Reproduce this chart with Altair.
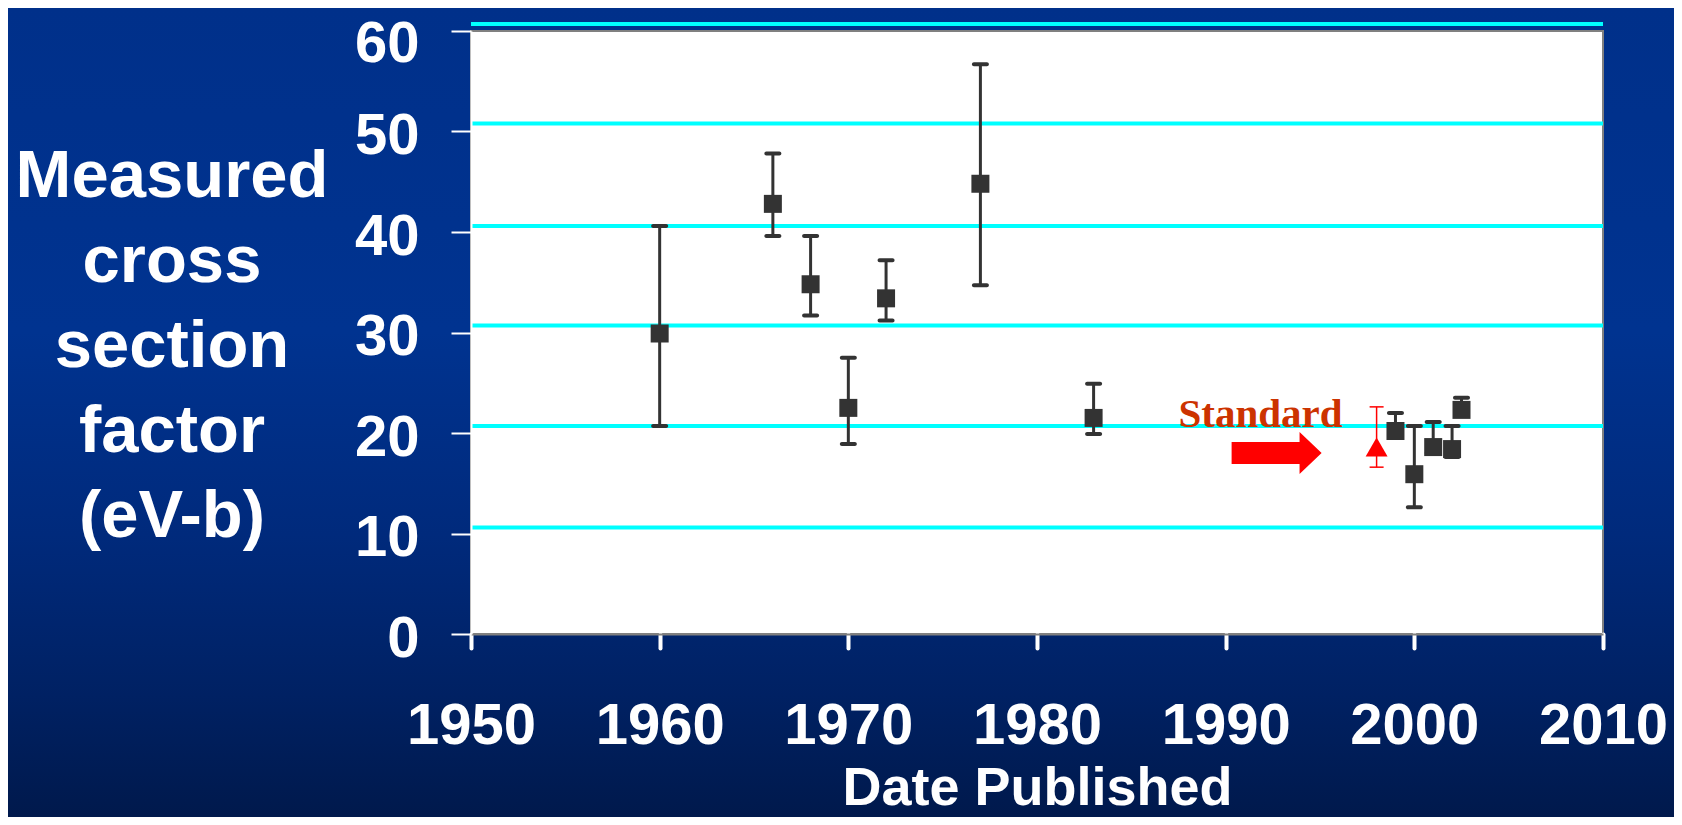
import altair as alt
import pandas as pd

# ---- data ----
years = [1960, 1966, 1968, 1970, 1972, 1977, 1983, 1999, 2000, 2001, 2002, 2002.5]
values = [29.9, 42.8, 34.8, 22.5, 33.4, 44.8, 21.5, 20.2, 15.9, 18.6, 18.4, 22.3]
err_low = [20.7, 39.6, 31.7, 18.9, 31.2, 34.7, 19.9, 19.8, 12.6, 18.0, 17.6, 21.8]
err_high = [40.6, 47.8, 39.6, 27.5, 37.2, 56.7, 24.9, 22.0, 20.7, 21.1, 20.7, 23.5]

std_year = [1998]
std_value = [18.6]
std_low = [16.6]
std_high = [22.6]

label_year = [1987.5]
label_value = [20.6]
label_text = ["Standard"]

arrow_year = [1992.7]
arrow_value = [18.0]

grid_values = [10.6, 20.7, 30.7, 40.6, 50.8, 60.7]

x_ticks = [1950, 1960, 1970, 1980, 1990, 2000, 2010]
y_ticks = [0, 10, 20, 30, 40, 50, 60]
y_title = ["Measured", "cross", "section", "factor", "(eV-b)"]
x_title = "Date Published"

# ---- layout / style ----
W, H = 1132, 603
PAD = {"left": 463, "top": 23, "right": 71, "bottom": 183}
FONT = "Liberation Sans"
DARK = "#333333"

main = pd.DataFrame({"year": years, "value": values, "low": err_low, "high": err_high})
std = pd.DataFrame({"year": std_year, "value": std_value, "low": std_low, "high": std_high})
lab = pd.DataFrame({"year": label_year, "value": label_value, "text": label_text})
arr = pd.DataFrame({"year": arrow_year, "value": arrow_value})
grid = pd.DataFrame({"value": grid_values})

x_axis = alt.Axis(
    values=x_ticks, format="d", title=x_title,
    labelFont=FONT, labelFontSize=58, labelFontWeight="bold", labelColor="white",
    labelPadding=49, labelFlush=False, labelOverlap=False,
    tickColor="white", tickWidth=4, tickSize=14, tickCap="round",
    domainColor="#808080", domainWidth=2, grid=False,
    titleFont=FONT, titleFontSize=54, titleFontWeight="bold", titleColor="white",
    titleBaseline="alphabetic", titleAlign="center", titleX=W / 2, titleY=170,
    zindex=1,
)
y_axis = alt.Axis(
    values=y_ticks, format="d", title=y_title,
    labelFont=FONT, labelFontSize=58, labelFontWeight="bold", labelColor="white",
    labelPadding=32,
    labelOffset={"condition": {"test": "datum.value === 60", "value": 13}, "value": 5},
    labelOverlap=False, labelFlush=False,
    tickColor="white", tickWidth=2, tickSize=20,
    domainColor="white", domainWidth=2, grid=False,
    titleFont=FONT, titleFontSize=67, titleFontWeight="bold", titleColor="white",
    titleAngle=0, titleAlign="center", titleBaseline="alphabetic",
    titleX=-299.5, titleY=165, titleLineHeight=85,
    zindex=1,
)
xs = alt.Scale(domain=[1950, 2010], nice=False, zero=False)
ys = alt.Scale(domain=[0, 60], nice=False, zero=False)


def X(f="year"):
    return alt.X(f"{f}:Q", scale=xs, axis=x_axis)


def Y(f):
    return alt.Y(f"{f}:Q", scale=ys, axis=y_axis)


one = alt.Data(values=[{}])

background = alt.Chart(one).mark_rect(
    fill={
        "gradient": "linear", "x1": 0, "y1": 0, "x2": 0, "y2": 1,
        "stops": [
            {"offset": 0, "color": "#00308A"},
            {"offset": 0.4, "color": "#003390"},
            {"offset": 0.65, "color": "#002A7C"},
            {"offset": 0.85, "color": "#002163"},
            {"offset": 1, "color": "#00194C"},
        ],
    },
    strokeWidth=0,
).encode(
    x=alt.value(-PAD["left"]), x2=alt.value(W + PAD["right"]),
    y=alt.value(-PAD["top"]), y2=alt.value(H + PAD["bottom"]),
)

plot_bg = alt.Chart(one).mark_rect(fill="white", stroke="#808080", strokeWidth=2).encode(
    x=alt.value(0), x2=alt.value(W), y=alt.value(0), y2=alt.value(H)
)

grid_rules = alt.Chart(grid).mark_rule(color="#00FFFF", strokeWidth=4).encode(y=Y("value"))

err_rules = alt.Chart(main).mark_rule(color=DARK, strokeWidth=3).encode(
    x=X(), y=Y("low"), y2="high:Q"
)
cap_low = alt.Chart(main).mark_tick(
    orient="horizontal", size=17, thickness=4, color=DARK, opacity=1, cornerRadius=2
).encode(x=X(), y=Y("low"))
cap_high = alt.Chart(main).mark_tick(
    orient="horizontal", size=17, thickness=4, color=DARK, opacity=1, cornerRadius=2
).encode(x=X(), y=Y("high"))
squares = alt.Chart(main).mark_point(
    shape="square", filled=True, size=324, color=DARK, opacity=1, strokeWidth=0
).encode(x=X(), y=Y("value"))

std_rule = alt.Chart(std).mark_rule(color="#FF0000", strokeWidth=1.5).encode(
    x=X(), y=Y("low"), y2="high:Q"
)
std_cap_low = alt.Chart(std).mark_tick(
    orient="horizontal", size=14, thickness=1.5, color="#FF0000", opacity=1
).encode(x=X(), y=Y("low"))
std_cap_high = alt.Chart(std).mark_tick(
    orient="horizontal", size=14, thickness=1.5, color="#FF0000", opacity=1
).encode(x=X(), y=Y("high"))
std_tri = alt.Chart(std).mark_point(
    shape="triangle-up", filled=True, size=480, color="#FF0000", opacity=1, strokeWidth=0
).encode(x=X(), y=Y("value"))

arrow_path = "M-1,-0.244L0.51,-0.244L0.51,-0.467L1,0L0.51,0.467L0.51,0.244L-1,0.244Z"
arrow = alt.Chart(arr).mark_point(
    shape=arrow_path, filled=True, size=8100, color="#FF0000", opacity=1, strokeWidth=0
).encode(x=X(), y=Y("value"))

label = alt.Chart(lab).mark_text(
    font="Liberation Serif", fontWeight="bold", fontSize=41, color="#CC3300",
    align="left", baseline="alphabetic",
).encode(x=X(), y=Y("value"), text="text:N")

chart = alt.layer(
    background, plot_bg, grid_rules, err_rules, cap_low, cap_high, squares,
    std_rule, std_cap_low, std_cap_high, std_tri, arrow, label,
).properties(
    width=W, height=H,
    autosize=alt.AutoSizeParams(type="none"),
    padding=PAD,
    background="#002A7C",
).configure_view(stroke=None, fill=None)

chart.save("out.html", embed_options={"renderer": "svg", "actions": False})
